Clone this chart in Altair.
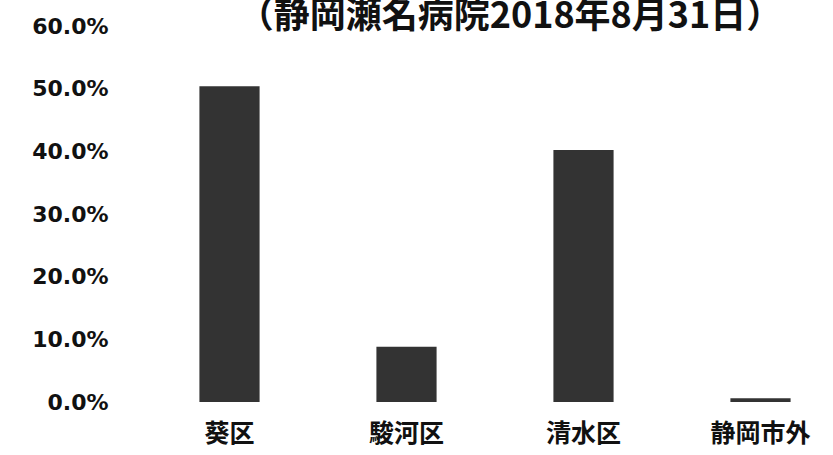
import altair as alt
import pandas as pd

# 居住地区別の割合（静岡瀬名病院 2018年8月31日）
areas = ["葵区", "駿河区", "清水区", "静岡市外"]
shares = [0.504, 0.088, 0.402, 0.006]
y_ticks = [0.0, 0.1, 0.2, 0.3, 0.4, 0.5, 0.6]
heading = "（静岡瀬名病院2018年8月31日）"

df = pd.DataFrame({"area": areas, "share": shares})
head_df = pd.DataFrame({"text": [heading]})

PLOT_W = 692
PLOT_H = 376

bars = (
    alt.Chart(df)
    .mark_bar(color="#333333")
    .encode(
        x=alt.X(
            "area:N",
            sort=areas,
            title=None,
            scale=alt.Scale(range=[0, 708], paddingInner=0.66, paddingOuter=0.33),
            axis=alt.Axis(
                labelAngle=0,
                labelFont="Noto Sans CJK JP",
                labelFontSize=25,
                labelFontWeight="bold",
                labelColor="#111111",
                labelPadding=19,
                ticks=False,
                tickSize=0,
                domain=False,
                grid=False,
                labelOverlap=False,
                labelBound=False,
            ),
        ),
        y=alt.Y(
            "share:Q",
            title=None,
            scale=alt.Scale(domain=[0, 0.6], nice=False),
            axis=alt.Axis(
                values=y_ticks,
                format=".1%",
                labelFont="DejaVu Sans",
                labelFontSize=22,
                labelFontWeight="bold",
                labelColor="#111111",
                labelPadding=33,
                ticks=False,
                tickSize=0,
                domain=False,
                grid=False,
            ),
        ),
    )
)

# heading drawn along the top edge of the canvas
head = (
    alt.Chart(head_df)
    .mark_text(
        font="Noto Sans CJK JP",
        fontSize=36,
        fontWeight="bold",
        color="#111111",
        align="center",
        baseline="bottom",
    )
    .encode(text="text:N", x=alt.value(369), y=alt.value(10))
)

chart = (
    alt.layer(bars, head)
    .properties(
        width=PLOT_W,
        height=PLOT_H,
        background="white",
        autosize=alt.AutoSizeParams(type="none"),
        padding={"left": 141, "top": 26, "right": 0, "bottom": 53},
    )
    .configure_view(strokeWidth=0, stroke="transparent")
)

chart.save("out.html", embed_options={"renderer": "svg", "actions": False})
